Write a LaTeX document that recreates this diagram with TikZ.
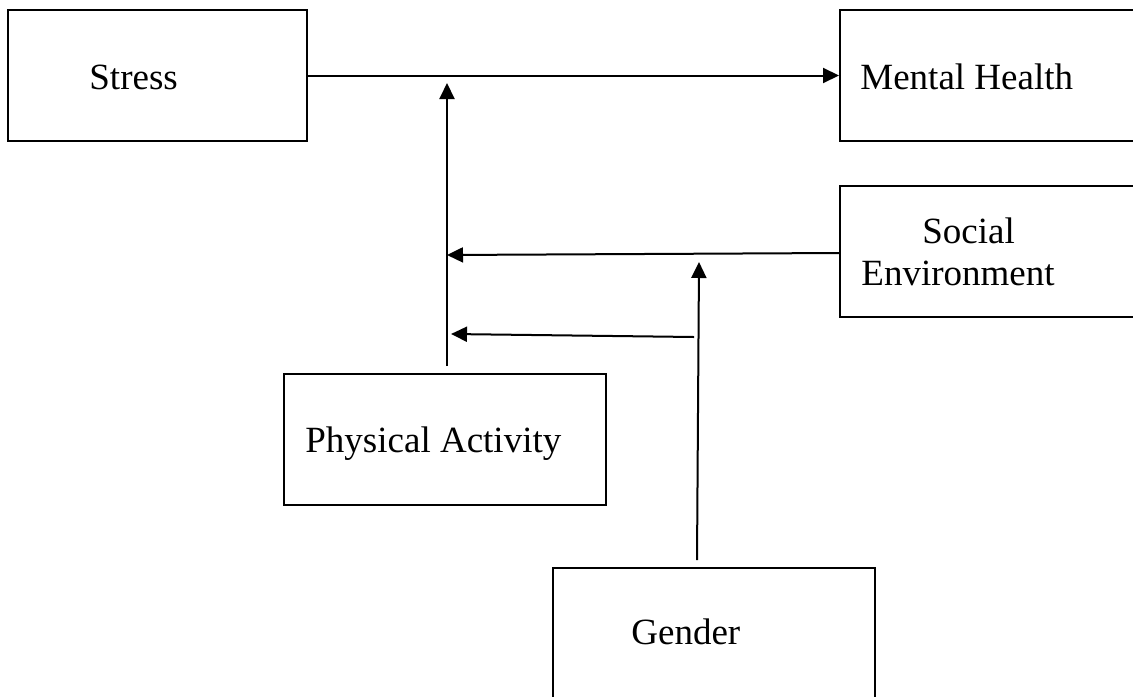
\documentclass[tikz,border=0pt]{standalone}
\usepackage{fontspec}
\setmainfont{Liberation Serif}
\usetikzlibrary{arrows.meta}
\begin{document}
\begin{tikzpicture}[x=0.5pt,y=-0.5pt,
  box/.style={draw,line width=1pt,inner sep=0,minimum height=65.5pt},
  lbl/.style={anchor=base west,inner sep=0,font=\fontsize{18.5}{22}\selectfont},
  arr/.style={line width=1pt,-{Triangle[length=8pt,width=7.5pt]}}]
\useasboundingbox (0,0) rectangle (1133,696);
\clip (0,0) rectangle (1133,696);
% boxes
\node[box,minimum width=149.5pt] (stress) at (157.5,75.5) {};
\node[box,minimum width=153pt] (mh) at (993,75.5) {};
\node[box,minimum width=153pt] (social) at (993,251.5) {};
\node[box,minimum width=161pt] (pa) at (445,439.5) {};
\node[box,minimum width=161pt] (gender) at (714,633) {};
% labels
\node[lbl] (tstress) at (89,89) {Stress};
\node[lbl] (tmh) at (860,89) {Mental Health};
\node[lbl] (tsoc1) at (922,243) {Social};
\node[lbl] (tsoc2) at (861,285) {Environment};
\node[lbl] (tpa) at (305,452) {Physical Activity};
\node[lbl] (tgender) at (631,644) {Gender};
% connector points
\coordinate (paStart) at (447,366);
\coordinate (paTip) at (447,83);
\coordinate (socStart) at (840,253);
\coordinate (socTip) at (447,255);
\coordinate (intStart) at (694,337);
\coordinate (intTip) at (451,334);
\coordinate (genStart) at (697,560);
\coordinate (genTip) at (699,262);
% connectors
\draw[arr] (stress.east) -- (mh.west);
\draw[arr] (paStart) -- (paTip);
\draw[arr] (socStart) -- (socTip);
\draw[arr] (intStart) -- (intTip);
\draw[arr] (genStart) -- (genTip);
\end{tikzpicture}
\end{document}
